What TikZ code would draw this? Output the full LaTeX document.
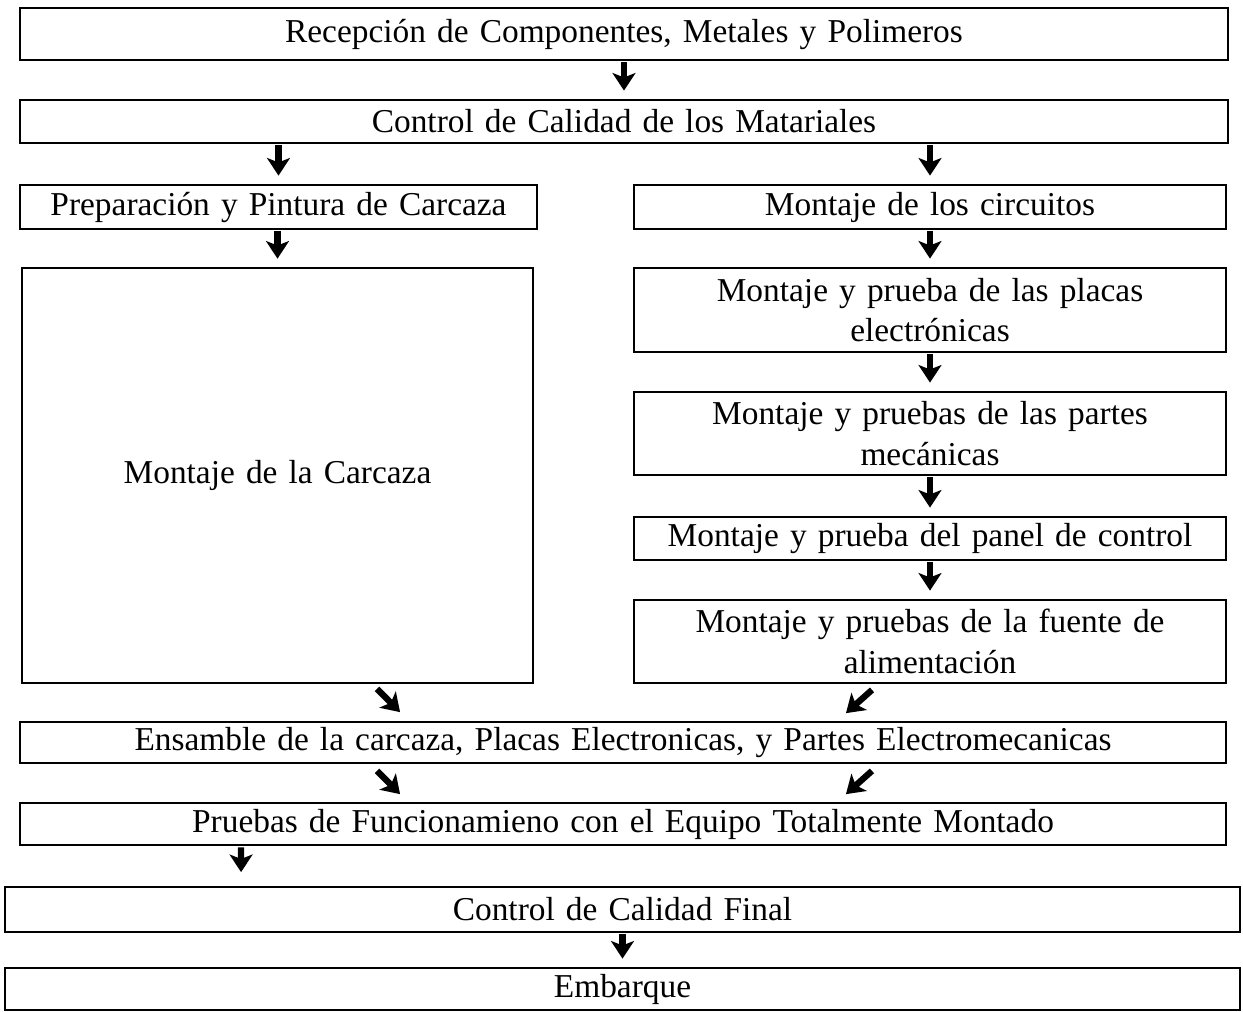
\documentclass[tikz,border=0pt]{standalone}
\usepackage{fontspec}
\setmainfont[WordSpace=0.6]{Liberation Serif}
\usetikzlibrary{arrows.meta}

\begin{document}
\begin{tikzpicture}[x=0.02cm, y=-0.02cm,
  caja/.style={draw, black, line width=1pt, inner sep=0pt, align=center, font=\fontsize{19}{23}\selectfont},
  punta/.style={line width=3.6pt, -{Stealth[length=10pt,width=13pt,inset=2.5pt]}},
  flecha/.style={punta, shorten <=0.03cm, shorten >=0.17cm}]
  \useasboundingbox (0,0) rectangle (1243,1011);
  \node[caja, text width=24.16cm, minimum height=1.04cm] (rec) at (624,34) {Recepción de Componentes, Metales y Polimeros};
  \node[caja, text width=24.16cm, minimum height=0.86cm] (ccm) at (624,121.5) {Control de Calidad de los Matariales};
  \node[caja, text width=10.34cm, minimum height=0.88cm] (prep) at (278.5,207) {Preparación y Pintura de Carcaza};
  \node[caja, text width=11.84cm, minimum height=0.88cm] (circ) at (930,207) {Montaje de los circuitos};
  \node[caja, text width=10.22cm, minimum height=8.3cm] (carc) at (277.5,475.5) {Montaje de la Carcaza};
  \node[caja, text width=11.84cm, minimum height=1.68cm] (plac) at (930,310) {Montaje y prueba de las placas\\electrónicas};
  \node[caja, text width=11.84cm, minimum height=1.66cm] (mec) at (930,433.5) {Montaje y pruebas de las partes\\mecánicas};
  \node[caja, text width=11.84cm, minimum height=0.86cm] (pan) at (930,538.5) {Montaje y prueba del panel de control};
  \node[caja, text width=11.84cm, minimum height=1.66cm] (fue) at (930,641.5) {Montaje y pruebas de la fuente de\\alimentación};
  \node[caja, text width=24.12cm, minimum height=0.82cm] (ens) at (623,742.5) {Ensamble de la carcaza, Placas Electronicas, y Partes Electromecanicas};
  \node[caja, text width=24.12cm, minimum height=0.84cm] (pru) at (623,824) {Pruebas de Funcionamieno con el Equipo Totalmente Montado};
  \node[caja, text width=24.7cm, minimum height=0.9cm] (cfin) at (622.5,909.5) {Control de Calidad Final};
  \node[caja, text width=24.7cm, minimum height=0.84cm] (emb) at (622.5,989) {Embarque};
  \draw[flecha] (rec.south) -- (rec.south |- ccm.north);
  \draw[flecha] (ccm.south -| prep.north) -- (prep.north);
  \draw[flecha] (ccm.south -| circ.north) -- (circ.north);
  \draw[flecha] (prep.south -| carc.north) -- (carc.north);
  \draw[flecha] (circ.south) -- (plac.north);
  \draw[flecha] (plac.south) -- (mec.north);
  \draw[flecha] (mec.south) -- (pan.north);
  \draw[flecha] (pan.south) -- (fue.north);
  \draw[punta] ([xshift=1.99cm,yshift=-0.1cm]carc.south) -- ([xshift=-4.46cm,yshift=0.18cm]ens.north);
  \draw[punta] ([xshift=-1.16cm,yshift=-0.12cm]fue.south) -- ([xshift=4.46cm,yshift=0.16cm]ens.north);
  \draw[punta] ([xshift=-4.92cm,yshift=-0.14cm]ens.south) -- ([xshift=-4.46cm,yshift=0.16cm]pru.north);
  \draw[punta] ([xshift=4.98cm,yshift=-0.14cm]ens.south) -- ([xshift=4.46cm,yshift=0.16cm]pru.north);
  \draw[flecha, shorten >=0.28cm] ([xshift=-7.64cm]pru.south) -- ([xshift=-7.63cm]cfin.north);
  \draw[flecha] (cfin.south) -- (emb.north);
\end{tikzpicture}
\end{document}
